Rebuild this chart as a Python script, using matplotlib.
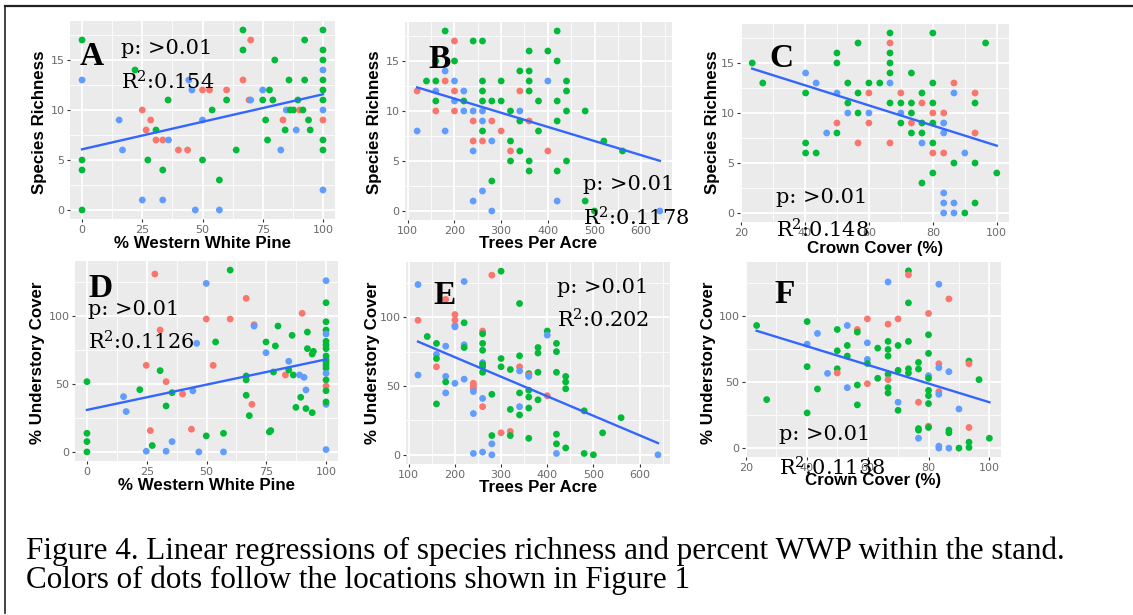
import matplotlib
matplotlib.use("Agg")
import matplotlib.pyplot as plt
from matplotlib.lines import Line2D
from matplotlib.ticker import MultipleLocator
import numpy as np

plt.rcParams["mathtext.fontset"] = "dejavuserif"

# ggplot default hue palette, one colour per site
site_colors = {"r": "#F8766D", "g": "#00BA38", "b": "#619CFF"}

# A: species richness vs % western white pine
a_x = [0, 0, 0, 0, 0, 22, 15.4, 16.8, 25, 28.5, 26.6, 30.7, 30.7, 33.5, 35.9, 27.3, 33.5, 25,
       33.5, 35.7, 40, 43.8, 44.3, 45.6, 50, 52.9, 50, 54, 50, 47, 57, 57, 60, 60, 66.8, 66.8,
       66.8, 70, 69.3, 70, 64, 75, 77.8, 75, 79.2, 80, 76.2, 77, 82.5, 83.4, 84.3, 85.9, 84.8,
       86.4, 87.8, 88.9, 89.6, 90.3, 91.7, 92.4, 92.4, 94, 94.7,
       100, 100, 100, 100, 100, 100, 100, 100, 100, 100, 100, 100]
a_y = [17, 13, 5, 4, 0, 14, 9, 6, 10, 9, 8, 8, 7, 7, 7, 5, 4, 1,
       1, 11, 6, 6, 13, 12, 12, 12, 9, 10, 5, 0, 3, 0, 12, 11, 18, 16,
       13, 17, 11, 11, 6, 12, 12, 11, 11, 15, 9, 7, 6, 9, 8, 13, 10,
       10, 10, 8, 11, 10, 10, 17, 13, 9, 8,
       18, 16, 15, 14, 13, 12, 11, 10, 9, 7, 6, 2]
a_site = ("g b g g g g b b r r r g r r b g g b "
          "b g r r b b r r b g g b g b r g g g "
          "r r r b g b g g g g g g b r g g b "
          "g g b g r g g g g g "
          "g g g b g g g b r g g b").split()

# B: species richness vs trees per acre
b_x = [120, 120, 140, 160, 160, 160, 160, 160,
       180, 180, 180, 180,
       200, 200, 200, 200, 200, 200,
       220, 220, 220,
       240, 240, 240, 240, 240, 240,
       260, 260, 260, 260, 260, 260, 260, 260, 260,
       280, 280, 280, 280, 280,
       300, 300, 300,
       320, 320, 320, 320,
       340, 340, 340, 340, 340,
       360, 360, 360, 360, 360, 360, 360,
       380, 380,
       400, 400, 400,
       420, 420, 420, 420, 420, 420,
       440, 440, 440, 440,
       480, 480, 500, 520, 560, 640]
b_y = [12, 8, 13, 13, 11, 10, 12, 15,
       18, 14, 13, 8,
       17, 15, 13, 12, 11, 10,
       12, 11, 10,
       17, 10, 9, 7, 6, 1,
       17, 13, 12, 11, 10, 9, 8, 7, 2,
       11, 9, 7, 3, 0,
       13, 11, 8,
       10, 7, 6, 5,
       14, 12, 10, 9, 6,
       16, 14, 13, 12, 9, 5, 4,
       11, 8,
       16, 13, 6,
       18, 15, 11, 9, 4, 1,
       13, 12, 10, 5,
       10, 1, 0, 7, 6, 0]
b_site = ("r b g g g r b g "
          "g b r b "
          "r g b r b r "
          "b g b "
          "g b r r b b "
          "g g g g b b g r b "
          "g r b g b "
          "g g r "
          "g g r g "
          "g r b g g "
          "g g g g r g g "
          "g g "
          "g b r "
          "g g g g g b "
          "g g g g "
          "g g g g g b").split()

# C: species richness vs crown cover
c_x = [23.5, 26.8,
       40.2, 40.2, 40.2, 40.2,
       43.5, 43.5,
       46.8,
       50, 50, 50, 50, 50,
       53.4, 53.4, 53.4,
       56.6, 56.6, 56.6, 56.6,
       60, 60, 60, 60,
       63.4,
       66.6, 66.6, 66.6, 66.6, 66.6, 66.6, 66.6, 66.6,
       70, 70, 70, 70,
       73.3, 73.3, 73.3, 73.3, 73.3,
       76.6, 76.6, 76.6, 76.6, 76.6, 76.6,
       80, 80, 80, 80, 80, 80, 80, 80,
       83.4, 83.4, 83.4, 83.4, 83.4, 83.4, 83.4,
       86.6, 86.6, 86.6, 86.6, 86.6,
       90, 90,
       93.2, 93.2, 93.2, 93.2, 93.2,
       96.5, 100]
c_y = [15, 13,
       14, 12, 7, 6,
       13, 6,
       8,
       16, 15, 12, 9, 8,
       13, 11, 10,
       17, 12, 10, 7,
       13, 12, 10, 9,
       13,
       18, 17, 16, 15, 14, 13, 11, 7,
       12, 11, 10, 9,
       14, 11, 10, 9, 8,
       12, 11, 9, 8, 7, 3,
       18, 13, 11, 10, 9, 7, 6, 4,
       10, 9, 8, 6, 2, 1, 0,
       13, 12, 5, 1, 0,
       6, 0,
       12, 11, 8, 5, 1,
       17, 4]
c_site = ("g g "
          "b g g g "
          "b g "
          "b "
          "g g b r g "
          "g g b "
          "g g g r "
          "g r b r "
          "g "
          "g r g g g b g r "
          "r g b g "
          "g g g r g "
          "g r g g b g "
          "g g g r g g r g "
          "r b b r b b b "
          "r b g b b "
          "b g "
          "r g r g g "
          "g g").split()

# D: % understory cover vs % western white pine
d_x = [0, 0, 0, 0,
       15.3, 16.4, 22.1, 24.8, 24.8, 26.5, 27.3, 28.4, 30.6, 30.6, 33.1, 33.1,
       33.1, 35.6, 35.6, 40, 43.7, 44.3, 46.8, 49.9, 49.9, 49.9, 45.9, 52.8, 53.8, 57.1, 57.1,
       59.9, 59.9, 66.6, 66.6, 66.6, 66.6, 67.9, 69, 69.9, 69.9, 74.9, 74.9, 76.3, 76.9, 78,
       78.8, 79.9, 83, 84.4, 84.4, 85.8, 86.3, 87.4, 88.9, 89.4, 90, 90.8, 91.6, 91.6, 92.2,
       92.2, 94.2, 94.2, 94.7,
       100, 100, 100, 100, 100, 100, 100, 100, 100, 100,
       100, 100, 100, 100, 100, 100, 100, 100, 100, 100]
d_y = [51.7, 13.7, 7.6, 0,
       40.7, 29.7, 45.8, 63.7, 0.5, 15.7, 4.7, 130.9, 89.7, 59.8, 51.7, 33.8,
       0.5, 43.6, 7.6, 42.6, 16.7, 44.9, 0, 124, 97.8, 11.8, 79.9, 63.7, 80.9, 0, 13.7,
       133.8, 97.8, 113, 41.7, 55.9, 53, 26.7, 35, 93.6, 92.6, 80.9, 73, 14.7, 15.7, 58.8,
       78, 92.6, 56.6, 66.7, 60.3, 85.8, 56.6, 32.8, 56.6, 40.2, 102, 54.9, 45.6, 31.9, 88.2,
       76, 28.9, 72, 74,
       126, 109.8, 95.8, 89.7, 86.8, 81.4, 78.7, 76, 70.6, 67.6,
       65.7, 63.7, 61.5, 57.8, 53, 48.5, 45, 35, 36.8, 1.7]
d_site = ("g g g g "
          "b b g r b r g r r g r g "
          "b g b r r b b b r g b r g b g "
          "g r r g g g g r r b g b g g g "
          "g g r b g g g g b g r b b g g "
          "g g g g "
          "b g g g b g g g g g "
          "g g g b g r g b g b").split()

# E: % understory cover vs trees per acre
e_x = [120, 120, 120,
       140,
       160, 160, 160, 160, 160,
       180, 180, 180, 180, 180,
       200, 200, 200, 200, 200,
       220, 220, 220, 220, 220,
       240, 240, 240, 240, 240, 240,
       260, 260, 260, 260, 260, 260, 260, 260, 260, 260, 260,
       280, 280, 280, 280, 280,
       300, 300, 300, 300,
       320, 320, 320, 320,
       340, 340, 340, 340, 340, 340, 340,
       360, 360, 360, 360, 360, 360, 360,
       380, 380, 380, 380,
       400, 400, 400,
       420, 420, 420, 420, 420, 420,
       440, 440, 440, 440,
       480, 480, 500, 520, 560, 640]
e_y = [123.8, 97.8, 58,
       86,
       81, 73, 70, 64, 37,
       113, 79, 57, 53, 45,
       102, 98, 94, 93, 52,
       126, 96, 80, 78, 55,
       52, 50, 48, 46, 30, 1,
       90, 88, 81, 76, 67, 66, 64, 60, 41, 35, 2,
       130.6, 44, 14, 8, 0,
       133.5, 70, 64, 16,
       62, 33, 17, 14,
       110, 72, 64, 61, 45, 35, 29,
       59, 58, 57, 47, 42, 34, 12,
       78, 74, 60, 40,
       90, 87, 43,
       81, 75, 60, 15, 8, 1,
       57, 53, 48, 5,
       32, 1, 0, 16, 27, 0]
e_site = ("b r b "
          "g "
          "g b g r g "
          "r b b g b "
          "r r r b b "
          "b g b g b "
          "r r r b b b "
          "r g g g b g g g b r b "
          "r g g b b "
          "g g g r "
          "g g r g "
          "g g r b g b g "
          "g r b g g g g "
          "g g g g "
          "g b r "
          "g g g g g b "
          "g g g g "
          "g g g g g b").split()

# F: % understory cover vs crown cover
f_x = [23.5, 26.8,
       40.1, 40.1, 40.1, 40.1,
       43.5, 43.5,
       46.8,
       50, 50, 50, 50,
       53.3, 53.3, 53.3, 53.3,
       56.6, 56.6, 56.6, 56.6,
       59.9, 59.9, 59.9, 59.9, 59.9,
       63.3, 63.3,
       66.7, 66.7, 66.7, 66.7, 66.7, 66.7, 66.7, 66.7, 66.7,
       70, 70, 70, 70, 70,
       73.4, 73.4, 73.4, 73.4, 73.4, 73.4,
       76.7, 76.7, 76.7, 76.7, 76.7, 76.7,
       80, 80, 80, 80, 80, 80, 80, 80, 80, 80,
       83.4, 83.4, 83.4, 83.4, 83.4, 83.4, 83.4,
       86.7, 86.7, 86.7, 86.7, 86.7,
       90, 90,
       93.3, 93.3, 93.3, 93.3, 93.3,
       96.6, 100]
f_y = [92.7, 36.7,
       95.7, 78.6, 61.6, 26.6,
       86.7, 44.7,
       56.5,
       89.7, 73.6, 60, 56.8,
       92.7, 77.6, 69.6, 45.7,
       89.7, 87.7, 47.7, 32.7,
       97.7, 79.6, 67.1, 64, 48.7,
       75.6, 52.8,
       125.6, 93.7, 80.7, 74.6, 69.6, 55.8, 51.8, 45.7, 41.7,
       97.7, 77.6, 58.8, 34.7, 28.6,
       134, 131, 109.8, 80.7, 60, 56.8,
       64.8, 59.8, 34.7, 14.8, 13.6, 7.5,
       101.8, 85.7, 71.6, 54.8, 52.8, 43.7, 39.7, 33.7, 16.6, 15.6,
       123.9, 63.8, 60.8, 42.7, 40.7, 1.5, 0,
       112.8, 57.8, 13.6, 11.6, 0,
       29.6, 0,
       65.8, 63.8, 15.6, 4.5, 0.5,
       51.8, 7.5]
f_site = ("g g "
          "g b g g "
          "b g "
          "b "
          "g g g r "
          "b g g b "
          "r g g g "
          "r b b g r "
          "g g "
          "b r g g g g r g g "
          "r g g b g "
          "g r g g g g "
          "g g r g g b "
          "r g g b g g g g r g "
          "b r b r b b b "
          "r b g g b "
          "b g "
          "g r r g g "
          "g g").split()

# fitted regression lines (intercept, slope)
fits = {"A": (6.07, 0.055), "B": (14.06, -0.01413), "C": (16.80, -0.1007),
        "D": (30.9, 0.372), "E": (99.33, -0.1419), "F": (105.3, -0.706)}

W, H = 1133, 615
fig = plt.figure(figsize=(W / 100, H / 100), dpi=100)


def fx(x):
    return x / W


def fy(y):
    return 1 - y / H


def make_panel(box, x, y, sites, fit, xticks, yticks):
    left, top, right, bottom = box
    ax = fig.add_axes([fx(left), fy(bottom), (right - left) / W, (bottom - top) / H])
    ax.set_facecolor("#EBEBEB")
    for s in ax.spines.values():
        s.set_visible(False)
    # ggplot-style 5% expansion around the data range
    xlo, xhi = min(x), max(x)
    ylo, yhi = min(y), max(y)
    xp, yp = 0.05 * (xhi - xlo), 0.05 * (yhi - ylo)
    ax.set_xlim(xlo - xp, xhi + xp)
    ax.set_ylim(ylo - yp, yhi + yp)
    ax.set_xticks(xticks)
    ax.set_yticks(yticks)
    ax.xaxis.set_minor_locator(MultipleLocator((xticks[1] - xticks[0]) / 2))
    ax.yaxis.set_minor_locator(MultipleLocator((yticks[1] - yticks[0]) / 2))
    ax.grid(which="major", color="white", lw=1.3)
    ax.grid(which="minor", color="white", lw=0.6)
    ax.set_axisbelow(True)
    ax.tick_params(which="major", length=2.5, width=0.8, color="#333333", pad=1.5,
                   labelsize=8, labelcolor="#6a6a6a")
    ax.tick_params(which="minor", length=0)
    ax.scatter(x, y, s=24, c=[site_colors[k] for k in sites], linewidths=0, zorder=3)
    xs = np.array([xlo, xhi])
    ax.plot(xs, fit[0] + fit[1] * xs, color="#3366FF", lw=1.7, zorder=4)
    return ax


def titles(xlabel, ylabel, xpos, ypos):
    fig.text(fx(xpos[0]), fy(xpos[1]), xlabel, ha="center", va="center",
             fontsize=12.2, fontweight="bold", family="Liberation Sans")
    fig.text(fx(ypos[0]), fy(ypos[1]), ylabel, ha="center", va="center", rotation=90,
             fontsize=12.2, fontweight="bold", family="Liberation Sans")


def notes(letter, lpos, r2, ppos, rbase):
    fig.text(fx(lpos[0]), fy(lpos[1]), letter, fontsize=24, fontweight="bold",
             family="Liberation Serif", va="baseline", zorder=5)
    fig.text(fx(ppos[0]), fy(ppos[1]), "p: >0.01", fontsize=15, family="DejaVu Serif",
             va="baseline", zorder=5)
    fig.text(fx(ppos[0]), fy(rbase), "R$^2$:" + r2, fontsize=15, family="DejaVu Serif",
             va="baseline", zorder=5)


wwp_ticks = [0, 25, 50, 75, 100]
tpa_ticks = [100, 200, 300, 400, 500, 600]
cc_ticks = [20, 40, 60, 80, 100]
rich_ticks = [0, 5, 10, 15]
cover_ticks = [0, 50, 100]

make_panel((70, 21, 335, 219), a_x, a_y, a_site, fits["A"], wwp_ticks, rich_ticks)
make_panel((405, 22, 672, 220), b_x, b_y, b_site, fits["B"], tpa_ticks, rich_ticks)
make_panel((740, 24, 1009, 222), c_x, c_y, c_site, fits["C"], cc_ticks, rich_ticks)
make_panel((75, 261, 338, 461), d_x, d_y, d_site, fits["D"], wwp_ticks, cover_ticks)
make_panel((406, 262, 670, 464), e_x, e_y, e_site, fits["E"], tpa_ticks, cover_ticks)
make_panel((745, 262, 1001, 457), f_x, f_y, f_site, fits["F"], cc_ticks, cover_ticks)

titles("% Western White Pine", "Species Richness", (202, 243), (40, 122))
titles("Trees Per Acre", "Species Richness", (538, 244), (374, 122))
titles("Crown Cover (%)", "Species Richness", (875, 248), (713, 122))
titles("% Western White Pine", "% Understory Cover", (207, 485), (38, 363))
titles("Trees Per Acre", "% Understory Cover", (538, 488), (373, 363))
titles("Crown Cover (%)", "% Understory Cover", (873, 480), (708, 363))

notes("A", (80, 65), "0.154", (121, 54), 89)
notes("B", (428, 68), "0.1178", (583, 190), 225)
notes("C", (769, 67), "0.148", (776, 203), 238)
notes("D", (88, 297), "0.1126", (88, 315), 350)
notes("E", (433, 304), "0.202", (557, 293), 328)
notes("F", (774, 303), "0.1138", (779, 440), 475)

# frame lines along the top and left edge
fig.add_artist(Line2D([fx(5), 1], [fy(6), fy(6)], color="#222222", lw=1.6))
fig.add_artist(Line2D([fx(5.5), fx(5.5)], [fy(6), fy(613)], color="#222222", lw=1.2))

caption = ("Figure 4. Linear regressions of species richness and percent WWP within the stand.\n"
           "Colors of dots follow the locations shown in Figure 1")
fig.text(fx(26), fy(537), caption, fontsize=22.4, family="Liberation Serif",
         va="top", linespacing=0.94)

fig.savefig("out.png", dpi=100)
